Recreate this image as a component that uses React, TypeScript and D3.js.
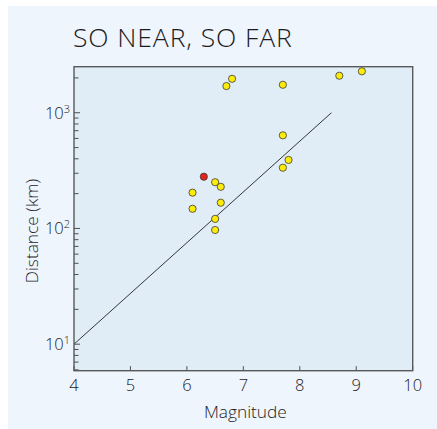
import React from 'react';
import * as d3 from 'd3';

// magnitude vs distance of the quakes
const magnitudes = [6.3, 6.5, 6.6, 6.1, 6.1, 6.6, 6.5, 6.5, 6.7, 6.8, 7.7, 8.7, 9.1, 7.7, 7.8, 7.7];
const distances = [280, 251, 229, 204, 148, 167, 121, 97, 1700, 1966, 1745, 2088, 2280, 638, 391, 335];
const highlighted = [true, false, false, false, false, false, false, false, false, false, false, false, false, false, false, false];

// fitted trend: two end points
const fitMagnitudes = [4, 8.56];
const fitDistances = [10, 1000];

const xTicks = [4, 5, 6, 7, 8, 9, 10];
const yMajorTicks = [10, 100, 1000];
const yExponents = ['1', '2', '3'];
const yMinorTicks = [6, 7, 8, 9, 20, 30, 40, 50, 60, 70, 80, 90, 200, 300, 400, 500, 600, 700, 800, 900, 2000];

const W = 437;
const H = 429;
const margin = { left: 74, right: W - 412.7, top: 66.7, bottom: H - 370.7 };
const font = "'Open Sans', 'Noto Sans', sans-serif";
const ink = '#1d1b1c';

const App: React.FC = () => {
    const x = d3.scaleLinear().domain([4, 10]).range([margin.left, W - margin.right]);
    const y = d3.scaleLog().domain([5.9, 2500]).range([H - margin.bottom, margin.top]);

    const line = d3.line<number>()
        .x((_, i) => x(fitMagnitudes[i]))
        .y((d) => y(d));

    const x0 = margin.left;
    const x1 = W - margin.right;
    const y0 = H - margin.bottom;
    const y1 = margin.top;

    return (
        <svg width={W} height={H} style={{ position: 'absolute', left: 0, top: 0 }}>
            <rect x={8} y={6} width={W - 8} height={H - 6} fill="#eef5fc" />
            <text x={73} y={46.7} fontFamily={font} fontWeight={300} fontSize={26.5} letterSpacing={0.9} fill={ink}>
                SO NEAR, SO FAR
            </text>
            <rect x={x0} y={y1} width={x1 - x0} height={y0 - y1} fill="#e0edf7" />

            <path d={line(fitDistances) || ''} fill="none" stroke="#231f20" strokeWidth={0.9} />

            {/* y ticks */}
            {yMinorTicks.map((t) => (
                <line key={'m' + t} x1={x0} x2={x0 + 4.5} y1={y(t)} y2={y(t)} stroke="#4d4d4f" strokeWidth={1} />
            ))}
            {yMajorTicks.map((t, i) => (
                <g key={'M' + t}>
                    <line x1={x0} x2={x0 + 6} y1={y(t)} y2={y(t)} stroke="#4d4d4f" strokeWidth={1} />
                    <text x={x0 - 4} y={y(t) + 5.8} textAnchor="end" fontFamily={font} fontWeight={300} fontSize={16.5} fill={ink}>
                        10<tspan dy={-6} fontSize={11}>{yExponents[i]}</tspan>
                    </text>
                </g>
            ))}

            {/* x ticks */}
            {xTicks.map((t) => (
                <g key={'x' + t}>
                    <line x1={x(t)} x2={x(t)} y1={y0} y2={y0 - 4.5} stroke="#4d4d4f" strokeWidth={1} />
                    <text x={x(t)} y={y0 + 20} textAnchor="middle" fontFamily={font} fontWeight={300} fontSize={16.5} fill={ink}>
                        {t}
                    </text>
                </g>
            ))}

            <rect x={x0} y={y1} width={x1 - x0} height={y0 - y1} fill="none" stroke="#58595b" strokeWidth={1.4} />

            {magnitudes.map((m, i) => (
                <circle key={i} cx={x(m)} cy={y(distances[i])} r={3.6}
                    fill={highlighted[i] ? '#e3241b' : '#fdec0a'} stroke="#3a3a3a" strokeWidth={0.8} />
            ))}

            <text x={(x0 + x1) / 2 + 2} y={418} textAnchor="middle" fontFamily={font} fontWeight={300} fontSize={17.3} fill={ink}>
                Magnitude
            </text>
            <text transform={`translate(38.3, 231) rotate(-90)`} textAnchor="middle"
                fontFamily={font} fontWeight={300} fontSize={17.3} fill={ink}>
                Distance (km)
            </text>
        </svg>
    );
};

export default App;
